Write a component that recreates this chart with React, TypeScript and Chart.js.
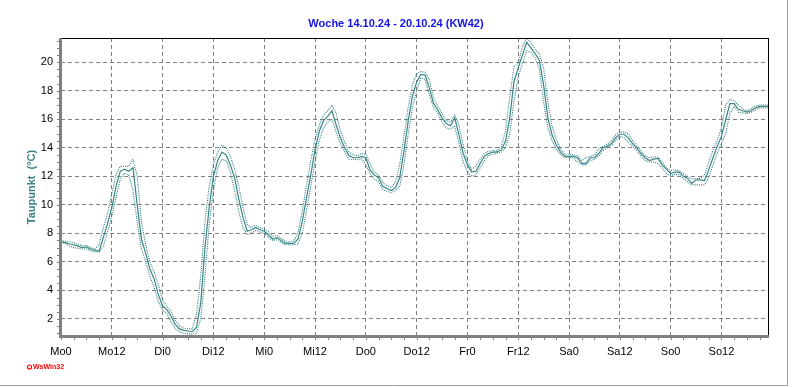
import React, { useEffect, useRef } from 'react';
import { Chart, registerables } from 'chart.js';

Chart.register(...registerables);

// Hourly dew point (°C), Mo 0h .. So 23h
const dewPoint = [
  7.4, 7.35, 7.25, 7.2, 7.1, 7.0, 7.05, 6.9, 6.8, 6.75,
  7.7, 8.7, 9.8, 11.3, 12.35, 12.5, 12.35, 12.6, 10.0, 7.6,
  6.6, 5.5, 4.8, 3.7, 2.9, 2.65, 2.2, 1.6, 1.3, 1.2,
  1.15, 1.1, 1.4, 3.1, 7.0, 9.8, 12.0, 13.1, 13.7, 13.5,
  12.8, 11.9, 10.4, 9.1, 8.15, 8.25, 8.4, 8.25, 8.15, 7.9,
  7.6, 7.7, 7.5, 7.3, 7.3, 7.3, 7.6, 8.85, 10.5, 12.1,
  13.85, 15.15, 15.9, 16.2, 16.6, 15.6, 14.7, 14.0, 13.45, 13.3,
  13.3, 13.4, 13.3, 12.45, 12.1, 11.9, 11.3, 11.15, 11.0, 11.2,
  11.9, 13.75, 15.85, 17.6, 18.6, 19.15, 19.1, 18.2, 17.1, 16.65,
  16.1, 15.7, 15.55, 16.1, 14.9, 13.6, 12.8, 12.3, 12.35, 12.9,
  13.4, 13.6, 13.7, 13.7, 13.85, 14.45, 16.1, 18.65, 19.6, 20.5,
  21.4, 21.0, 20.6, 20.15, 18.4, 16.1, 14.9, 14.2, 13.7, 13.4,
  13.4, 13.4, 13.3, 12.9, 12.9, 13.3, 13.3, 13.6, 14.0, 14.1,
  14.3, 14.7, 14.95, 14.95, 14.7, 14.3, 14.0, 13.6, 13.3, 13.1,
  13.2, 13.25, 12.8, 12.5, 12.2, 12.3, 12.3, 12.0, 11.85, 11.5,
  11.75, 11.75, 11.7, 12.45, 13.3, 14.1, 14.8, 15.95, 17.1, 17.1,
  16.7, 16.6, 16.5, 16.6, 16.8, 16.9, 16.9, 16.9,
];

const dewPointMax = [
  7.5, 7.45, 7.4, 7.35, 7.2, 7.15, 7.15, 7.0, 6.9, 7.2,
  8.4, 9.4, 10.8, 12.1, 12.7, 12.7, 12.7, 13.2, 12.0, 8.8,
  7.2, 6.0, 5.3, 4.4, 3.3, 2.9, 2.5, 1.9, 1.5, 1.35,
  1.3, 1.3, 2.3, 5.0, 8.8, 11.3, 12.8, 13.7, 14.2, 14.0,
  13.4, 12.5, 11.3, 9.8, 8.6, 8.4, 8.55, 8.4, 8.3, 8.1,
  7.8, 7.85, 7.65, 7.45, 7.4, 7.45, 8.1, 9.6, 11.4, 13.1,
  14.6, 15.6, 16.3, 16.6, 17.0, 16.4, 15.2, 14.4, 13.7, 13.5,
  13.45, 13.6, 13.55, 12.9, 12.3, 12.1, 11.6, 11.35, 11.2, 11.6,
  12.8, 14.8, 16.8, 18.4, 19.2, 19.35, 19.3, 18.8, 17.5, 16.9,
  16.4, 15.9, 15.8, 16.3, 15.6, 14.2, 13.1, 12.5, 12.7, 13.2,
  13.6, 13.75, 13.8, 13.8, 14.1, 15.2, 17.6, 19.7, 19.9, 21.1,
  21.7, 21.4, 20.9, 20.6, 19.6, 17.2, 15.5, 14.6, 13.9, 13.55,
  13.55, 13.5, 13.45, 13.1, 13.3, 13.4, 13.5, 13.9, 14.1, 14.25,
  14.5, 14.9, 15.1, 15.1, 15.0, 14.5, 14.2, 13.8, 13.45, 13.3,
  13.35, 13.35, 13.0, 12.6, 12.4, 12.45, 12.4, 12.2, 12.0, 11.8,
  11.85, 11.85, 12.1, 13.0, 13.8, 14.5, 15.4, 17.0, 17.4, 17.3,
  17.0, 16.75, 16.6, 16.75, 16.95, 17.0, 17.0, 17.0,
];

const dewPointMin = [
  7.35, 7.3, 7.1, 7.0, 6.95, 6.9, 6.9, 6.8, 6.7, 6.7,
  7.1, 8.1, 9.2, 10.5, 11.8, 12.2, 12.1, 11.0, 8.8, 6.9,
  6.0, 5.0, 4.2, 3.2, 2.6, 2.4, 1.8, 1.3, 1.1, 1.0,
  0.95, 0.95, 1.0, 2.0, 5.0, 8.6, 11.0, 12.6, 13.2, 13.1,
  12.3, 11.0, 9.5, 8.4, 7.9, 8.05, 8.2, 8.1, 8.0, 7.7,
  7.5, 7.55, 7.35, 7.2, 7.2, 7.2, 7.25, 8.0, 9.6, 11.3,
  13.0, 14.5, 15.4, 15.8, 16.0, 15.1, 14.3, 13.7, 13.2, 13.2,
  13.15, 13.25, 12.8, 12.2, 11.8, 11.6, 11.1, 10.95, 10.85, 11.0,
  11.3, 12.8, 14.9, 16.8, 18.0, 18.9, 18.8, 17.7, 16.8, 16.4,
  15.8, 15.4, 15.3, 15.5, 14.3, 13.0, 12.3, 12.0, 12.1, 12.6,
  13.1, 13.45, 13.55, 13.6, 13.7, 14.0, 15.0, 17.3, 19.0, 19.9,
  20.8, 20.7, 20.3, 19.5, 17.2, 15.4, 14.5, 13.9, 13.5, 13.3,
  13.3, 13.3, 13.0, 12.8, 12.8, 13.1, 13.2, 13.4, 13.8, 14.0,
  14.15, 14.5, 14.8, 14.7, 14.4, 14.1, 13.8, 13.4, 13.1, 13.0,
  13.0, 12.9, 12.6, 12.2, 12.05, 12.15, 12.1, 11.85, 11.6, 11.4,
  11.4, 11.4, 11.4, 11.9, 12.8, 13.6, 14.3, 15.0, 16.4, 16.9,
  16.5, 16.45, 16.4, 16.5, 16.65, 16.8, 16.8, 16.8,
];

const xTickHours = [0, 12, 24, 36, 48, 60, 72, 84, 96, 108, 120, 132, 144, 156];
const xTickLabels = ['Mo0', 'Mo12', 'Di0', 'Di12', 'Mi0', 'Mi12', 'Do0', 'Do12', 'Fr0', 'Fr12', 'Sa0', 'Sa12', 'So0', 'So12'];
const yTickValues = [2, 4, 6, 8, 10, 12, 14, 16, 18, 20];

const chartTitle = 'Woche 14.10.24 - 20.10.24 (KW42)';
const yAxisTitle = 'Taupunkt  (°C)';
const creditText = 'WsWin32';

const FONT = '"Liberation Sans", Arial, sans-serif';
const LINE = '#3a8585';
const DOT = '#2a7a7a';

const decorPlugin = {
  id: 'decor',
  beforeDraw(chart: any) {
    const ctx = chart.ctx;
    ctx.save();
    ctx.fillStyle = '#ffffff';
    ctx.fillRect(0, 0, chart.width, chart.height);
    ctx.restore();
  },
  afterDraw(chart: any) {
    const ctx = chart.ctx as CanvasRenderingContext2D;
    const { left, right, top, bottom } = chart.chartArea;
    const xs = chart.scales.x;
    const ys = chart.scales.y;
    ctx.save();

    // title
    ctx.font = `bold 11px ${FONT}`;
    ctx.fillStyle = '#1414e6';
    ctx.textAlign = 'center';
    ctx.textBaseline = 'middle';
    ctx.fillText(chartTitle, chart.width / 2, 24);

    // y axis title
    ctx.save();
    ctx.translate(32, (top + bottom) / 2);
    ctx.rotate(-Math.PI / 2);
    ctx.fillStyle = '#3c8282';
    ctx.font = `bold 11px ${FONT}`;
    ctx.fillText(yAxisTitle, 0, 0);
    ctx.restore();

    // top & right border
    ctx.strokeStyle = '#000000';
    ctx.lineWidth = 1;
    ctx.beginPath();
    ctx.moveTo(left, Math.round(top) + 0.5);
    ctx.lineTo(right + 1, Math.round(top) + 0.5);
    ctx.moveTo(Math.round(right) + 0.5, top);
    ctx.lineTo(Math.round(right) + 0.5, bottom);
    ctx.stroke();

    // minor ticks
    ctx.strokeStyle = '#808080';
    ctx.lineWidth = 1;
    ctx.beginPath();
    for (let h = 0; h <= 167; h += 3) {
      const px = Math.round(xs.getPixelForValue(h)) + 0.5;
      ctx.moveTo(px, bottom);
      ctx.lineTo(px, bottom + 4);
    }
    for (let v = 1; v <= 21.5; v += 0.5) {
      const py = Math.round(ys.getPixelForValue(v)) + 0.5;
      ctx.moveTo(left - 4, py);
      ctx.lineTo(left, py);
    }
    ctx.stroke();

    // thick gray axes
    ctx.fillStyle = '#808080';
    ctx.fillRect(left - 2, top, 3, bottom - top + 2);
    ctx.fillRect(left - 2, bottom - 1, right - left + 3, 3);

    // credit
    ctx.strokeStyle = '#ff0000';
    ctx.lineWidth = 1.2;
    ctx.beginPath();
    ctx.arc(29.5, 367, 2, 0, Math.PI * 2);
    ctx.stroke();
    ctx.fillStyle = '#ff0000';
    ctx.font = `bold 7px ${FONT}`;
    ctx.textAlign = 'left';
    ctx.textBaseline = 'middle';
    ctx.fillText(creditText, 33, 367.5);

    // window frame
    ctx.strokeStyle = '#a0a0a0';
    ctx.lineWidth = 1;
    ctx.beginPath();
    ctx.moveTo(0, 385.5);
    ctx.lineTo(787.5, 385.5);
    ctx.moveTo(787.5, 0);
    ctx.lineTo(787.5, 386);
    ctx.stroke();

    ctx.restore();
  },
};

export default function App() {
  const ref = useRef<HTMLCanvasElement | null>(null);

  useEffect(() => {
    if (!ref.current) return;
    const toPts = (arr: number[]) => arr.map((v, i) => ({ x: i, y: v }));
    const chart = new Chart(ref.current, {
      type: 'line',
      data: {
        datasets: [
          {
            label: 'Max',
            data: toPts(dewPointMax),
            borderColor: DOT,
            borderWidth: 1.1,
            borderDash: [1, 1.2],
            pointRadius: 0,
            tension: 0,
            fill: false,
          },
          {
            label: 'Min',
            data: toPts(dewPointMin),
            borderColor: DOT,
            borderWidth: 1.1,
            borderDash: [1, 1.2],
            pointRadius: 0,
            tension: 0,
            fill: false,
          },
          {
            label: 'Taupunkt',
            data: toPts(dewPoint),
            borderColor: LINE,
            borderWidth: 1.2,
            pointRadius: 0,
            tension: 0,
            fill: false,
          },
        ],
      },
      options: {
        responsive: false,
        animation: false,
        devicePixelRatio: 1,
        layout: { padding: { left: 0, right: 24, top: 38, bottom: 0 } },
        plugins: {
          legend: { display: false },
          tooltip: { enabled: false },
          title: { display: false },
        },
        scales: {
          x: {
            type: 'linear',
            position: 'bottom',
            min: 0,
            max: 167,
            afterFit: (s: any) => {
              s.height = 51;
            },
            afterBuildTicks: (s: any) => {
              s.ticks = xTickHours.map((v) => ({ value: v }));
            },
            ticks: {
              autoSkip: false,
              maxRotation: 0,
              padding: 9,
              color: '#000000',
              font: { family: FONT, size: 11 },
              callback: (v: any) => {
                const i = xTickHours.indexOf(Number(v));
                return i >= 0 ? xTickLabels[i] : '';
              },
            },
            grid: { color: '#808080', lineWidth: 1, drawTicks: false },
            border: { display: false, dash: [4, 3] },
          },
          y: {
            min: 0.8,
            max: 21.7,
            afterFit: (s: any) => {
              s.width = 61;
            },
            afterBuildTicks: (s: any) => {
              s.ticks = yTickValues.map((v) => ({ value: v }));
            },
            ticks: {
              padding: 8,
              color: '#000000',
              font: { family: FONT, size: 11 },
            },
            grid: { color: '#808080', lineWidth: 1, drawTicks: false },
            border: { display: false, dash: [4, 3] },
          },
        },
      },
      plugins: [decorPlugin],
    } as any);
    return () => chart.destroy();
  }, []);

  return (
    <div style={{ position: 'fixed', left: 0, top: 0, width: 792, height: 387, background: '#fff' }}>
      <canvas ref={ref} width={792} height={387} style={{ display: 'block', width: 792, height: 387 }} />
    </div>
  );
}
